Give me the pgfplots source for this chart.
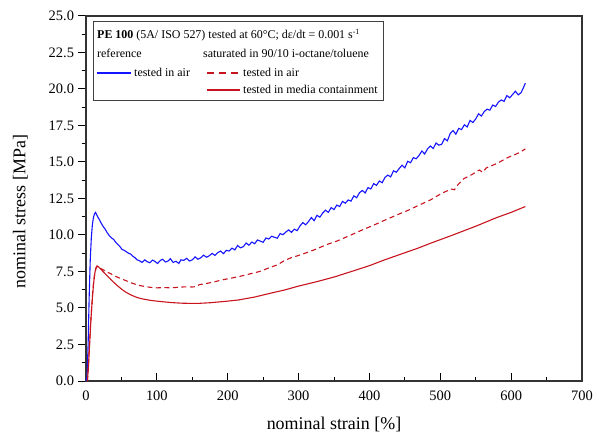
\documentclass[border=0pt]{standalone}
\usepackage{fontspec}
\setmainfont{Liberation Serif}
\usepackage{pgfplots}
\pgfplotsset{compat=1.18}
\definecolor{cblue}{RGB}{20,20,255}
\definecolor{cred}{RGB}{200,20,30}

\begin{document}
\begin{tikzpicture}
\path[use as bounding box] (-86bp,-55bp) rectangle (508bp,381bp);
\begin{axis}[
 at={(0,0)}, anchor=south west,
 scale only axis, width=496bp, height=365bp,
 xmin=0, xmax=700, ymin=0, ymax=25,
 xtick={0,100,200,300,400,500,600,700},
 ytick={0,2.5,5,7.5,10,12.5,15,17.5,20,22.5,25},
 minor x tick num=1, minor y tick num=1,
 tick pos=left,
 tick align=inside,
 major tick length=7.5bp, minor tick length=4bp,
 major y tick style={xshift=-7.5bp}, minor y tick style={xshift=-4bp},
 tick style={black, line width=1bp},
 axis line style={line width=1.3bp, black!80},
 /pgf/number format/assume math mode=true,
 ticklabel style={font=\fontsize{14.5}{16}\selectfont},
 yticklabel style={/pgf/number format/fixed, /pgf/number format/fixed zerofill, /pgf/number format/precision=1, xshift=-8.5bp},
 xticklabel style={yshift=-6bp},
 xlabel={nominal strain [\%]},
 ylabel={nominal stress [MPa]},
 label style={font=\fontsize{18}{20}\selectfont},
 xlabel style={at={(axis description cs:0.5,0)}, anchor=base, yshift=-48bp},
 ylabel style={at={([xshift=-60.5bp]axis description cs:0,0.464)}, anchor=base},
 clip=false,
]
\addplot[cblue, line width=1.1bp, mark=none] coordinates {
(0,0) (1.5,0.3) (3,2.5) (4.5,5.8) (6,8.3) (7.5,9.8) (9,10.7) (10.5,11.2) (12,11.45) (13.5,11.55)
(15,11.4) (17,11.2) (19,11.05) (21,10.85) (24,10.6) (27,10.4) (30,10.15) (33,9.95) (36,9.8) (39,9.7)
(42,9.5) (45,9.35) (48,9.2) (51,9.0) (54,8.95) (57,8.85) (60,8.75) (63,8.7) (66,8.55) (69,8.45) (72,8.3)
(75,8.25) (79,8.12) (83,8.30) (86,8.18) (90,8.10) (94,8.28) (97,8.20) (101,8.05) (105,8.26) (108,8.34)
(112,8.15) (116,8.22) (119,8.38) (123,8.12) (127,8.20) (131,8.05) (134,8.30) (138,8.26) (142,8.40) (146,8.22)
(150,8.30) (154,8.50) (158,8.34) (162,8.44) (166,8.62) (170,8.48) (174,8.58) (178,8.74) (182,8.60) (186,8.80)
(190,8.90) (194,8.72) (198,8.95) (202,8.90) (206,9.10) (210,8.98) (214,9.28) (218,9.12) (222,9.20) (226,9.45)
(230,9.30) (234,9.52) (238,9.40) (242,9.66) (246,9.58) (250,9.50) (254,9.80) (258,9.72) (262,9.92) (266,9.84)
(270,9.78) (274,10.10) (278,10.02) (282,10.20) (286,10.35) (290,10.18) (294,10.40) (298,10.30) (302,10.62) (306,10.85)
(310,10.70) (314,10.92) (318,11.20) (322,10.98) (326,11.35) (330,11.22) (334,11.50) (338,11.70) (342,11.55) (346,11.88)
(350,11.74) (354,12.05) (358,11.95) (362,12.30) (366,12.18) (370,12.40) (374,12.32) (378,12.68) (382,12.55) (386,12.90)
(390,13.05) (394,12.88) (398,13.25) (402,13.15) (406,13.52) (410,13.40) (414,13.70) (418,13.58) (422,13.95) (426,14.10)
(430,13.98) (434,14.40) (438,14.30) (442,14.55) (446,14.78) (450,14.60) (454,15.05) (458,14.95) (462,15.30) (466,15.22)
(470,15.45) (474,15.75) (478,15.55) (482,15.90) (486,16.10) (490,15.92) (494,16.30) (498,16.15) (502,16.22) (506,16.60)
(510,16.45) (514,16.95) (518,17.15) (522,16.90) (526,17.30) (530,17.22) (534,17.55) (538,17.40) (542,17.85) (546,17.70)
(550,17.95) (554,18.30) (558,18.15) (562,18.45) (566,18.62) (570,18.55) (574,18.90) (578,18.80) (582,19.10) (586,19.25)
(590,19.15) (594,19.55) (598,19.40) (602,19.62) (606,19.85) (610,19.60) (614,19.75) (617,20.05) (620,20.40)
};
\addplot[cred, line width=1.1bp, mark=none, dash pattern=on 5bp off 3.5bp] coordinates {
(2,0) (3.5,1.2) (5,2.6) (6.5,3.9) (8,5.0) (9.5,6.1) (11,6.9) (12.5,7.4) (14,7.7) (16,7.85)
(18,7.8) (21,7.7) (25,7.6) (30,7.45) (35,7.35) (40,7.2) (45,7.1) (50,7.0) (55,6.9) (60,6.8)
(65,6.7) (70,6.62) (75,6.55) (80,6.5) (90,6.42) (100,6.38) (110,6.40) (120,6.38) (130,6.42) (140,6.45)
(150,6.44) (155,6.46) (160,6.6) (170,6.68) (180,6.78) (190,6.9) (200,7.0) (215,7.14) (230,7.32) (245,7.5)
(261,7.8) (270,7.95) (280,8.25) (290,8.45) (300,8.6) (315,8.85) (327,9.08) (340,9.35) (355,9.6) (374,10.0)
(390,10.35) (405,10.65) (421,11.0) (440,11.4) (455,11.7) (468,12.0) (486,12.4) (500,12.8) (515,13.15) (520,13.1)
(525,13.45) (533,13.85) (545,14.15) (555,14.45) (560,14.3) (565,14.6) (580,14.9) (595,15.3) (605,15.5) (612,15.65) (620,15.9)
};
\addplot[cred, line width=1.1bp, mark=none] coordinates {
(2,0) (3.5,1.0) (5,2.4) (6.5,3.8) (8,5.0) (9.5,6.0) (11,6.8) (12.5,7.4) (14,7.75) (15.5,7.88)
(17,7.85) (20,7.7) (25,7.45) (30,7.2) (35,6.95) (40,6.72) (45,6.5) (50,6.3) (55,6.12) (60,5.98)
(65,5.86) (70,5.76) (75,5.68) (80,5.62) (90,5.53) (100,5.47) (110,5.42) (121,5.37) (135,5.33) (144,5.32)
(160,5.32) (175,5.36) (191,5.43) (200,5.47) (215,5.55) (238,5.75) (261,6.02) (280,6.23) (300,6.5) (327,6.82)
(350,7.12) (374,7.49) (400,7.9) (421,8.29) (445,8.7) (468,9.09) (486,9.43) (515,9.95) (550,10.6) (580,11.2)
(600,11.55) (620,11.95)
};
\coordinate (L) at ([xshift=7bp,yshift=-5bp]rel axis cs:0,1);
\draw[black!75, line width=0.8bp] (L) rectangle ([xshift=297bp,yshift=-84bp]rel axis cs:0,1);
\begin{scope}[every node/.style={font=\fontsize{12}{14}\selectfont, inner sep=0pt, anchor=base west}]
\node[xshift=4bp, yshift=-18bp] at (L) {\textbf{PE 100} (5A/ ISO 527) tested at 60°C; dε/dt = 0.001 s\textsuperscript{-1}};
\node[xshift=4bp, yshift=-37bp] at (L) {reference};
\node[xshift=110bp, yshift=-37bp] at (L) {saturated in 90/10 i-octane/toluene};
\node[xshift=41bp, yshift=-56bp] at (L) {tested in air};
\node[xshift=150bp, yshift=-56bp] at (L) {tested in air};
\node[xshift=150bp, yshift=-73bp] at (L) {tested in media containment};
\end{scope}
\draw[cblue, line width=1.1bp] ([xshift=4bp,yshift=-52bp]L) -- ([xshift=38bp,yshift=-52bp]L);
\draw[cred, line width=1.1bp, dash pattern=on 7bp off 5bp] ([xshift=114bp,yshift=-52bp]L) -- ([xshift=147bp,yshift=-52bp]L);
\draw[cred, line width=1.1bp] ([xshift=114bp,yshift=-69bp]L) -- ([xshift=147bp,yshift=-69bp]L);
\end{axis}
\end{tikzpicture}
\end{document}
